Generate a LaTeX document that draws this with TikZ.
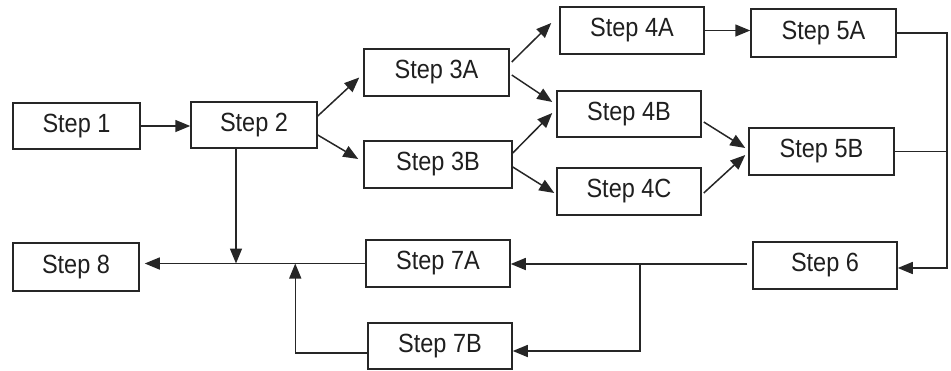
\documentclass[tikz,border=0pt]{standalone}
\usepackage{fontspec}
\setmainfont{Liberation Sans}
\usetikzlibrary{arrows.meta,calc}
\newcommand{\stxt}[1]{\scalebox{1}[1.12]{#1}}
\tikzset{
  stepbox/.style={draw=black!85, line width=1.5pt, inner sep=0pt, fill=white,
    font=\fontsize{23.5}{26}\selectfont, text=black!88},
  conn/.style={draw=black!85, line width=1.5pt},
  arr/.style={conn, -{Triangle[length=15pt,width=12pt]}},
}
\begin{document}
\begin{tikzpicture}[x=1pt,y=-1pt]
\useasboundingbox (0,0) rectangle (951,370);
\node[stepbox, minimum width=127pt, minimum height=46pt] (s1) at (76.5,126) {\stxt{Step 1}};
\node[stepbox, minimum width=126pt, minimum height=46pt] (s2) at (254,125) {\stxt{Step 2}};
\node[stepbox, minimum width=145pt, minimum height=47pt] (s3a) at (436.5,72.5) {\stxt{Step 3A}};
\node[stepbox, minimum width=148pt, minimum height=47pt] (s3b) at (438,164.5) {\stxt{Step 3B}};
\node[stepbox, minimum width=144pt, minimum height=47pt] (s4a) at (632,30.5) {\stxt{Step 4A}};
\node[stepbox, minimum width=144pt, minimum height=46pt] (s4b) at (629,114) {\stxt{Step 4B}};
\node[stepbox, minimum width=144pt, minimum height=47pt] (s4c) at (629,191.5) {\stxt{Step 4C}};
\node[stepbox, minimum width=145pt, minimum height=48pt] (s5a) at (823.5,33) {\stxt{Step 5A}};
\node[stepbox, minimum width=145pt, minimum height=47pt] (s5b) at (821.5,151.5) {\stxt{Step 5B}};
\node[stepbox, minimum width=144pt, minimum height=47pt] (s6) at (825,265.5) {\stxt{Step 6}};
\node[stepbox, minimum width=126pt, minimum height=48pt] (s8) at (76,267) {\stxt{Step 8}};
\node[stepbox, minimum width=144pt, minimum height=47pt] (s7a) at (438,263.5) {\stxt{Step 7A}};
\node[stepbox, minimum width=144pt, minimum height=46pt] (s7b) at (440,346) {\stxt{Step 7B}};

\draw[arr] (s1.east) -- (s1.east -| s2.west);
\draw[arr] ([yshift=9pt]s2.east) -- ([xshift=-4pt,yshift=-5pt]s3a.west);
\draw[arr] ([yshift=-10pt]s2.east) -- ([xshift=-5pt,yshift=5.5pt]s3b.west);
\draw[arr] ([xshift=2pt,yshift=10.5pt]s3a.east) -- ([xshift=-8pt,yshift=7.5pt]s4a.west);
\draw[arr] ([xshift=2pt,yshift=-2.5pt]s3a.east) -- ([xshift=-4pt,yshift=12pt]s4b.west);
\draw[arr] ([yshift=11.5pt]s3b.east) -- ([xshift=-4pt,yshift=1pt]s4b.west);
\draw[arr] ([yshift=-2.5pt]s3b.east) -- ([xshift=-2pt,yshift=-1.5pt]s4c.west);
\draw[arr] (s4a.east) -- (s4a.east -| s5a.west);
\draw[arr] ([xshift=2pt,yshift=-8pt]s4b.east) -- ([xshift=-3pt,yshift=3.5pt]s5b.west);
\draw[arr] ([xshift=2pt,yshift=-1.5pt]s4c.east) -- ([xshift=-3pt,yshift=-3.5pt]s5b.west);
\coordinate (bus) at ($(s5a.east)+(50,0)$);
\draw[arr] (s5a.east) -- (bus) |- ([yshift=-2.5pt]s6.east);
\draw[conn] (s5b.east) -- (s5b.east -| bus);
\coordinate (br) at ($(s7a.east)+(129,0)$);
\draw[arr] ([xshift=-5pt,yshift=1.5pt]s6.west) -- ([yshift=1.5pt]s6.west -| s7a.east);
\draw[arr] (br) |- ([yshift=-5pt]s7b.east);
\draw[arr] (s7a.west) -- ([xshift=5pt]s7a.west -| s8.east);
\draw[arr] ([xshift=-18pt]s2.south) -- ([xshift=-18pt]s2.south |- s7a.west);
\draw[arr] ([yshift=-7pt]s7b.west) -| ($(s7a.west)+(-70,0)$);
\end{tikzpicture}
\end{document}
